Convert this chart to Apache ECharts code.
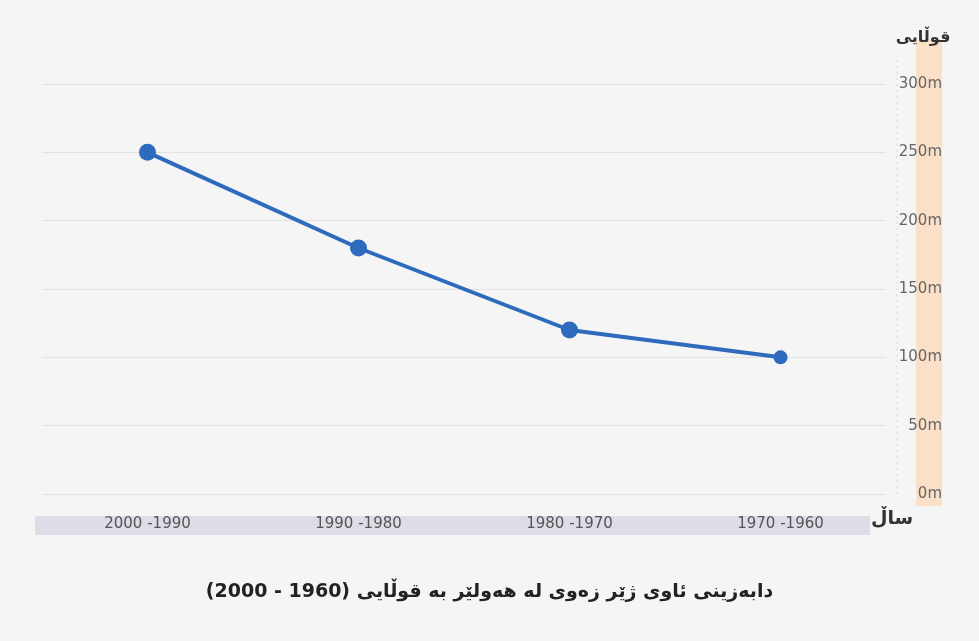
<!DOCTYPE html>
<html>
<head>
<meta charset="utf-8">
<script src="https://cdn.jsdelivr.net/npm/echarts@6/dist/echarts.min.js"></script>
<style>
  html, body { margin: 0; padding: 0; background: #f5f5f5; }
  #main { width: 979px; height: 641px; }
</style>
</head>
<body>
<div id="main"></div>
<script>
// داتای هێڵکاری
var periods = ['2000 -1990', '1990 -1980', '1980 -1970', '1970 -1960'];
var depths = [250, 180, 120, 100];
var markerSizes = [17, 17, 17, 14];
var yTicks = [0, 50, 100, 150, 200, 250, 300];

var chart = echarts.init(document.getElementById('main'));
var font = "'DejaVu Sans', 'Noto Sans', sans-serif";

var points = [];
for (var i = 0; i < depths.length; i++) {
    points.push({ value: depths[i], symbolSize: markerSizes[i] });
}

var option = {
    backgroundColor: '#f5f5f5',
    textStyle: { fontFamily: font },
    title: {
        text: 'دابەزینی ئاوی ژێر زەوی لە هەولێر بە قوڵایی (1960 - 2000)',
        left: 'center',
        top: 578,
        textStyle: { fontSize: 19, fontWeight: 'bold', color: '#222', fontFamily: font }
    },
    graphic: [
        // ستوونی پرتەقاڵی لای تەوەری y
        { type: 'rect', z: -1, shape: { x: 916, y: 40, width: 26, height: 466 }, style: { fill: '#fbe0c8' } },
        // هێڵی خاڵخاڵ
        { type: 'line', z: -1, shape: { x1: 897, y1: 60, x2: 897, y2: 494 }, style: { stroke: '#d8d8d8', lineWidth: 1, lineDash: [2, 4] } },
        // پشتینەی ناونیشانی ساڵەکان
        { type: 'rect', z: -1, shape: { x: 35, y: 516, width: 835, height: 19 }, style: { fill: '#dcdde7' } },
        { type: 'text', left: 871, top: 510, style: { text: 'ساڵ', fontSize: 19, fontWeight: 'bold', fill: '#333', fontFamily: font } },
        { type: 'text', x: 923, y: 38, style: { text: 'قوڵایی', fontSize: 16, fontWeight: 'bold', fill: '#333', fontFamily: font, align: 'center', verticalAlign: 'middle' } }
    ],
    grid: { left: 42, right: 93, top: 84, bottom: 147 },
    xAxis: {
        type: 'category',
        data: periods,
        axisLine: { show: false },
        axisTick: { show: false },
        axisLabel: { color: '#555', fontSize: 15, margin: 23 }
    },
    yAxis: {
        type: 'value',
        position: 'right',
        min: yTicks[0],
        max: yTicks[yTicks.length - 1],
        interval: 50,
        axisLine: { show: false },
        axisTick: { show: false },
        axisLabel: {
            color: '#666',
            fontSize: 15,
            align: 'right',
            margin: 56,
            formatter: function (v) { return v + 'm'; }
        },
        splitLine: { lineStyle: { color: '#e2e2e2', width: 1 } }
    },
    series: [{
        type: 'line',
        data: points,
        symbol: 'circle',
        color: '#2f6bbd',
        lineStyle: { width: 4, color: '#2f6bbd' },
        itemStyle: { color: '#2f6bbd' }
    }]
};
chart.setOption(option);
</script>
</body>
</html>
